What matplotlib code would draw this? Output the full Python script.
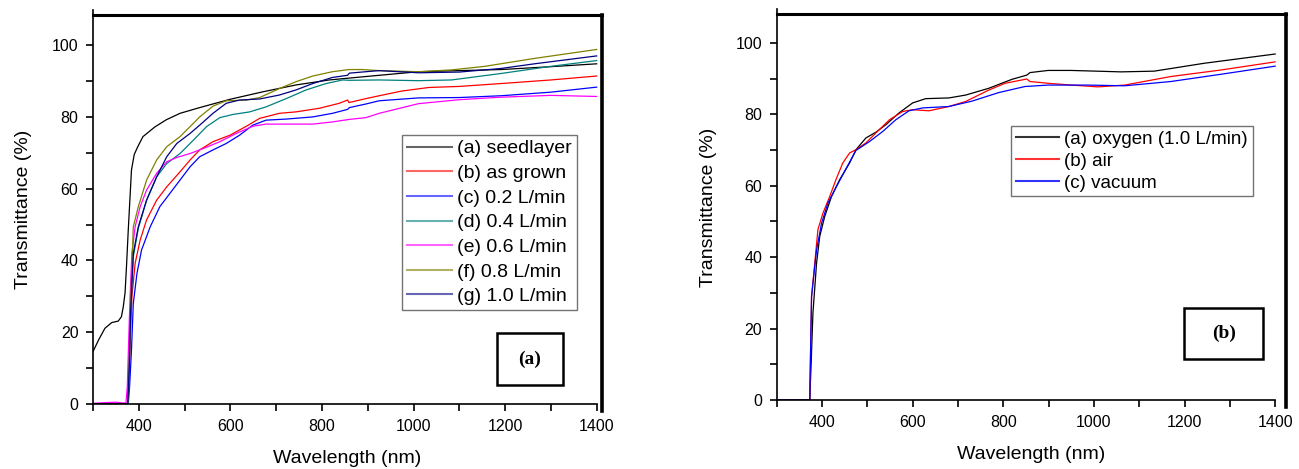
import matplotlib
matplotlib.use("Agg")
import matplotlib.pyplot as plt
from matplotlib.patches import Rectangle

plt.rcParams['font.family'] = ['Liberation Sans', 'DejaVu Sans']

# ---------------- Panel (a) data ----------------
lam_a = [300, 312, 326, 341, 355, 362, 366, 370, 373, 377, 381, 384, 390, 397, 409, 435, 460, 490, 533, 599,
         671, 743, 816, 925, 1011, 1100, 1191, 1300, 1400]
T_a = [14.6, 17.8, 21.1, 22.7, 23.1, 24.3, 27.0, 31.0, 38.0, 48.5, 58.0, 65.2, 69.5, 71.5, 74.5, 77.2, 79.2, 81.0, 82.6, 84.9,
       87.0, 88.9, 90.3, 91.6, 92.6, 92.9, 93.2, 94.0, 94.8]

lam_b = [300, 376, 379, 382, 385, 392, 403, 417, 439, 461, 490, 512, 533, 562, 599, 635, 664, 707, 743, 794,
         838, 856, 859, 896, 925, 974, 1033, 1100, 1191, 1300, 1400]
T_b = [0.0, 0.0, 8.0, 20.0, 30.0, 39.2, 45.7, 51.3, 56.8, 60.5, 64.7, 68.0, 70.8, 73.1, 74.9, 77.4, 79.6, 81.0, 81.4, 82.4,
       83.8, 84.7, 84.0, 85.1, 85.9, 87.2, 88.2, 88.5, 89.3, 90.3, 91.4]

lam_c = [300, 377, 380, 384, 388, 396, 406, 425, 446, 468, 490, 512, 533, 562, 591, 620, 649, 678, 722, 780,
         823, 856, 860, 896, 925, 1011, 1100, 1191, 1300, 1400]
T_c = [0.0, 0.0, 5.0, 15.0, 28.0, 36.4, 42.9, 49.4, 55.0, 58.7, 62.4, 66.1, 68.9, 70.8, 72.6, 74.9, 77.7, 79.1, 79.4, 80.0,
       81.0, 82.1, 82.6, 83.6, 84.5, 85.3, 85.4, 85.9, 86.9, 88.3]

lam_d = [300, 376, 379, 382, 385, 388, 399, 417, 439, 461, 490, 519, 548, 577, 606, 642, 678, 722, 765, 809,
         845, 860, 925, 1011, 1083, 1191, 1300, 1400]
T_d = [0.0, 0.0, 10.0, 24.0, 33.0, 41.0, 49.0, 56.8, 63.3, 67.0, 69.8, 73.5, 77.3, 79.8, 80.7, 81.4, 82.8, 85.1, 87.5, 89.3,
       90.3, 90.2, 90.3, 90.1, 90.3, 92.1, 94.1, 95.7]

lam_e = [300, 330, 350, 365, 372, 375, 378, 381, 385, 392, 403, 417, 439, 461, 483, 512, 541, 577, 613, 649,
         678, 722, 780, 823, 859, 896, 925, 1011, 1100, 1191, 1300, 1400]
T_e = [0.2, 0.4, 0.5, 0.3, 0.3, 5.0, 18.0, 30.0, 42.0, 49.4, 55.0, 59.6, 64.3, 67.5, 68.7, 69.8, 71.2, 73.1, 75.4, 77.4,
       78.0, 78.0, 78.0, 78.6, 79.3, 79.8, 81.0, 83.7, 84.8, 85.5, 86.0, 85.7]

lam_f = [300, 376, 378, 381, 384, 388, 399, 417, 439, 461, 490, 512, 533, 562, 591, 635, 664, 707, 743, 780,
         823, 859, 888, 925, 1011, 1083, 1156, 1264, 1400]
T_f = [0.0, 0.0, 5.0, 20.0, 35.0, 49.4, 55.0, 62.4, 68.0, 71.7, 74.5, 77.3, 80.0, 83.0, 84.5, 84.7, 85.4, 87.9, 89.8, 91.4,
       92.6, 93.2, 93.2, 92.9, 92.6, 93.1, 94.1, 96.3, 98.8]

lam_g = [300, 376, 379, 382, 385, 388, 399, 417, 439, 461, 483, 512, 533, 562, 591, 620, 664, 707, 743, 780,
         823, 856, 860, 896, 925, 1011, 1100, 1191, 1264, 1400]
T_g = [0.0, 0.0, 10.0, 25.0, 34.0, 42.0, 49.4, 56.8, 63.3, 68.9, 72.6, 75.4, 77.7, 81.0, 83.8, 84.7, 85.0, 86.1, 87.5, 89.3,
       91.0, 91.6, 92.2, 92.6, 92.9, 92.3, 92.5, 93.5, 94.8, 97.0]

labels_left = ["(a) seedlayer", "(b) as grown", "(c) 0.2 L/min", "(d) 0.4 L/min",
               "(e) 0.6 L/min", "(f) 0.8 L/min", "(g) 1.0 L/min"]
colors_left = ["#000000", "#ff0000", "#0000ff", "#008080", "#ff00ff", "#808000", "#000080"]

# ---------------- Panel (b) data ----------------
lam_ox = [300, 373, 376, 380, 388, 395, 406, 421, 439, 461, 475, 497, 519, 541, 570, 600, 629, 680, 717, 768,
          819, 852, 859, 899, 950, 1060, 1133, 1243, 1400]
T_ox = [0.0, 0.0, 10.0, 24.3, 38.3, 45.8, 51.4, 57.0, 61.7, 66.4, 70.1, 73.4, 75.0, 77.1, 80.4, 83.2, 84.4, 84.6, 85.4, 87.3,
        89.8, 91.0, 91.7, 92.3, 92.3, 91.9, 92.1, 94.3, 96.9]

lam_air = [300, 373, 375, 377, 384, 391, 402, 417, 432, 446, 461, 475, 497, 519, 549, 578, 600, 636, 680, 717,
           768, 804, 852, 859, 899, 950, 1009, 1068, 1170, 1279, 1400]
T_air = [0.0, 0.0, 15.0, 29.0, 38.3, 47.7, 52.3, 57.0, 62.1, 66.4, 69.2, 70.1, 72.0, 74.8, 78.5, 80.8, 81.3, 81.0, 82.2, 83.6,
         86.8, 88.7, 89.9, 89.2, 88.7, 88.2, 87.7, 88.2, 90.6, 92.4, 94.7]

lam_vac = [300, 373, 375, 377, 388, 399, 413, 432, 454, 475, 505, 534, 563, 592, 622, 680, 731, 790, 848, 899,
           987, 1068, 1170, 1279, 1400]
T_vac = [0.0, 0.0, 15.0, 29.0, 42.0, 49.5, 55.1, 59.8, 65.0, 69.9, 72.4, 75.2, 78.5, 81.0, 81.8, 82.2, 83.7, 86.1, 87.8, 88.2,
         88.2, 88.0, 89.2, 91.2, 93.5]

labels_right = ["(a) oxygen (1.0 L/min)", "(b) air", "(c) vacuum"]
colors_right = ["#000000", "#ff0000", "#0000ff"]

x_major = [400, 600, 800, 1000, 1200, 1400]
x_minor = [300, 500, 700, 900, 1100, 1300]
y_major = [0, 20, 40, 60, 80, 100]
y_minor = [10, 30, 50, 70, 90]

fig = plt.figure(figsize=(12.99, 4.69), dpi=100)
axL = fig.add_axes([0.0716, 0.1386, 0.3916, 0.8294])
axR = fig.add_axes([0.5979, 0.1471, 0.3921, 0.8230])


def style_axis(ax, xmax, ytop, ylabelpad):
    ax.set_xlim(300, xmax)
    ax.set_ylim(0, ytop)
    ax.set_xticks(x_major)
    ax.set_xticks(x_minor, minor=True)
    ax.set_yticks(y_major)
    ax.set_yticks(y_minor, minor=True)
    ax.tick_params(which='major', direction='out', length=5, width=1.2, labelsize=11.5, pad=5.5)
    ax.tick_params(which='minor', direction='out', length=5, width=1.2)
    ax.tick_params(axis='x', which='major', pad=6)
    ax.spines['bottom'].set_bounds(300, 1400)
    ax.spines['bottom'].set_linewidth(1.2)
    ax.spines['left'].set_linewidth(1.2)
    ax.spines['left'].set_bounds(0, ytop + 1.5)
    ax.spines['top'].set_linewidth(2.2)
    ax.spines['right'].set_linewidth(2.6)
    ax.spines['right'].set_bounds(-2, ytop)
    ax.set_xlabel("Wavelength (nm)", fontsize=14, labelpad=11)
    ax.set_ylabel("Transmittance (%)", fontsize=14, labelpad=ylabelpad)


# Panel (a)
series_left = [(lam_a, T_a), (lam_b, T_b), (lam_c, T_c), (lam_d, T_d), (lam_e, T_e), (lam_f, T_f), (lam_g, T_g)]
for (lx, ty), lab, col in zip(series_left, labels_left, colors_left):
    axL.plot(lx, ty, color=col, lw=0.9, label=lab)
style_axis(axL, 1411, 108.4, 14)
legL = axL.legend(loc='upper left', bbox_to_anchor=(0.6075, 0.6915), borderaxespad=0,
                  fontsize=14, frameon=True, fancybox=False, edgecolor='#505050',
                  handlelength=2.3, handletextpad=0.3, labelspacing=0.36, borderpad=0.25)
legL.get_frame().set_linewidth(1.0)
for ln in legL.get_lines():
    ln.set_alpha(0.6)
    ln.set_linewidth(1.5)
axL.add_patch(Rectangle((0.794, 0.0488), 0.1297, 0.1337, transform=axL.transAxes,
                        fill=False, edgecolor='black', lw=1.8))
axL.text(0.794 + 0.1297 / 2, 0.0488 + 0.1337 / 2, "(a)", transform=axL.transAxes,
         ha='center', va='center', fontsize=14, fontweight='bold', family='Liberation Serif')

# Panel (b)
series_right = [(lam_ox, T_ox), (lam_air, T_air), (lam_vac, T_vac)]
for (lx, ty), lab, col in zip(series_right, labels_right, colors_right):
    axR.plot(lx, ty, color=col, lw=0.9, label=lab)
style_axis(axR, 1424, 108.1, 13)
legR = axR.legend(loc='upper left', bbox_to_anchor=(0.46, 0.71), borderaxespad=0,
                  fontsize=13.5, frameon=True, fancybox=False, edgecolor='#505050',
                  handlelength=2.3, handletextpad=0.3, labelspacing=0.26, borderpad=0.25)
legR.get_frame().set_linewidth(1.0)
for ln in legR.get_lines():
    ln.set_alpha(0.8)
    ln.set_linewidth(1.5)
axR.add_patch(Rectangle((0.80, 0.106), 0.155, 0.132, transform=axR.transAxes,
                        fill=False, edgecolor='black', lw=1.8))
axR.text(0.80 + 0.155 / 2, 0.106 + 0.132 / 2, "(b)", transform=axR.transAxes,
         ha='center', va='center', fontsize=14, fontweight='bold', family='Liberation Serif')

fig.savefig("out.png", dpi=100)
